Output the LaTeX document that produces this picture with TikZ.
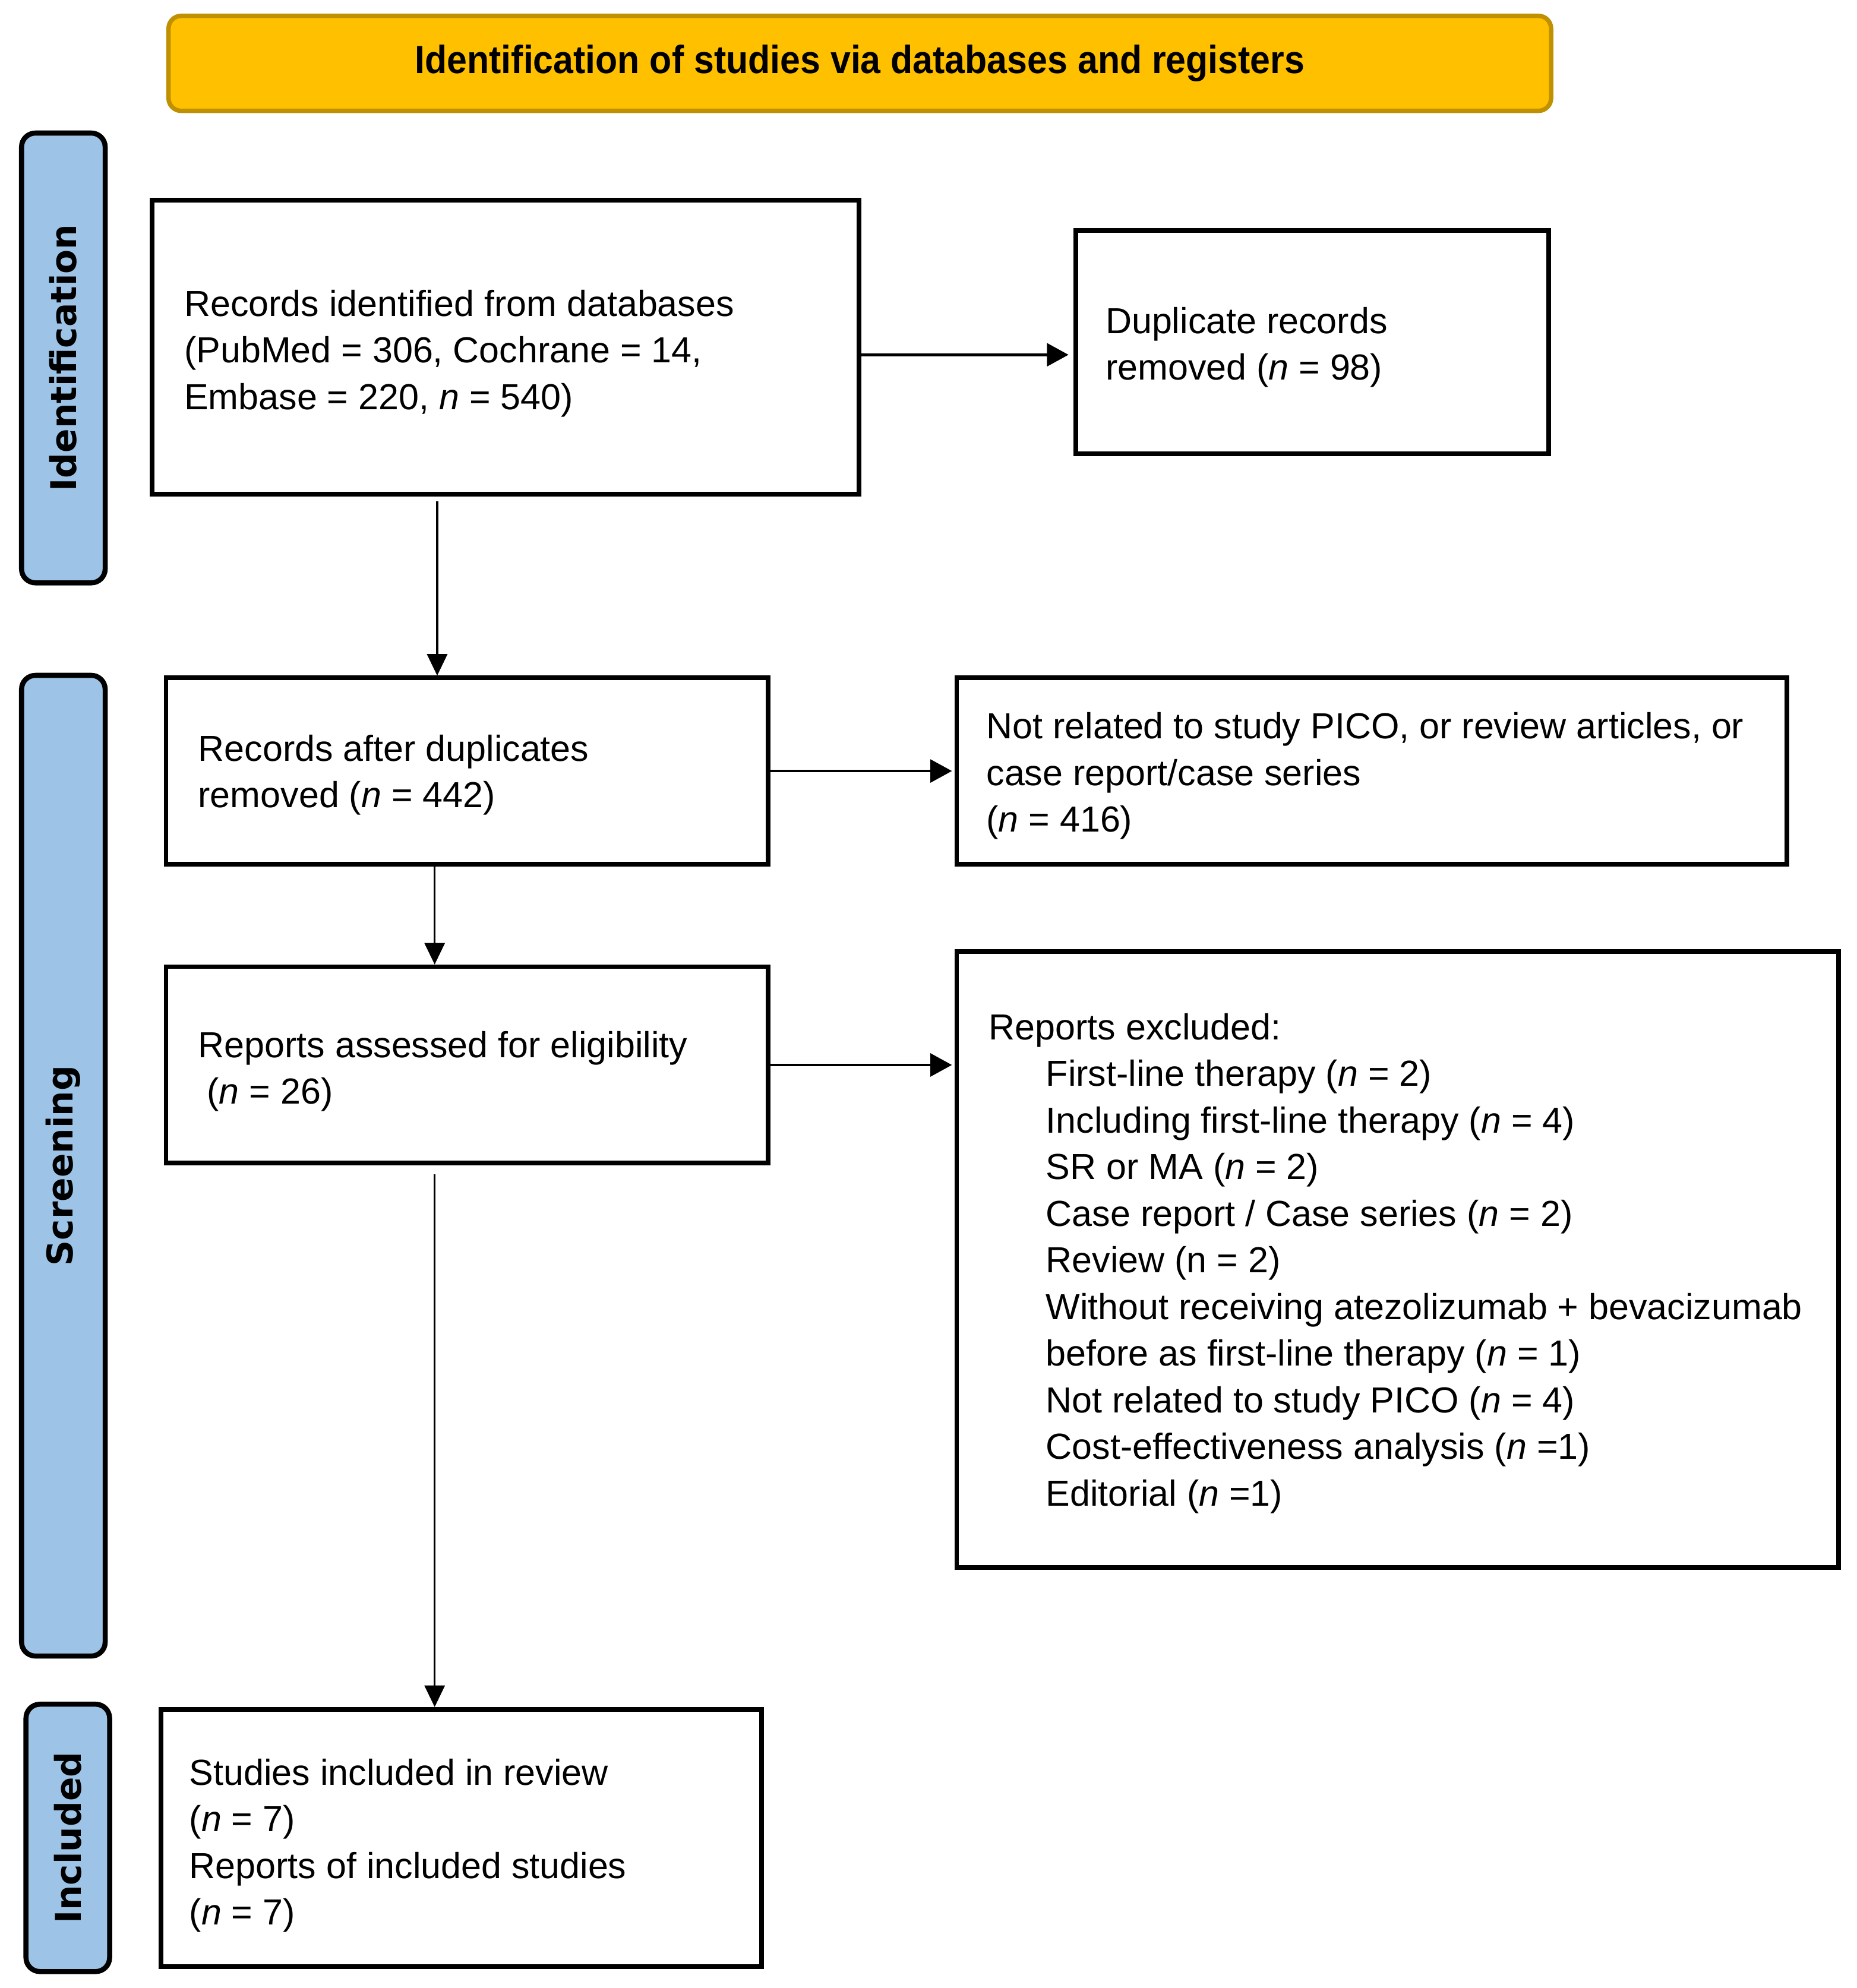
\documentclass[tikz,border=0pt]{standalone}
\usepackage{fontspec}
\setmainfont{Liberation Sans}
\newfontfamily\sidefont{DejaVu Sans}
\newfontfamily\headfont{Liberation Sans}[FakeStretch=0.92]
\usetikzlibrary{arrows.meta,calc}
\definecolor{headfill}{HTML}{FFC000}
\definecolor{headdraw}{HTML}{BF9000}
\definecolor{sidefill}{HTML}{9DC3E6}
\begin{document}
\begin{tikzpicture}[x=1pt,y=-1pt,
  box/.style={draw=black,line width=3.6pt,rectangle,inner sep=0pt,fill=white},
  txt/.style={anchor=west,align=left,inner sep=0pt,font=\fontsize{28.6}{36.8}\selectfont},
  side/.style={draw=black,line width=4pt,fill=sidefill,rounded corners=11pt,inner sep=0pt,
    rotate=90,minimum height=66pt,font=\sidefont\bfseries\fontsize{28}{30}\selectfont},
  arr/.style={-{Triangle[length=17pt,width=18pt]},line width=2.2pt},
  varr/.style={-{Triangle[length=17pt,width=16pt]},line width=1.5pt},
]
\useasboundingbox (0,0) rectangle (1465,1569);
\fill[white] (0,0) rectangle (1465,1569);

% header
\node[draw=headdraw,fill=headfill,line width=3.5pt,rounded corners=10pt,
  minimum width=1091pt,minimum height=75pt,inner sep=0pt,
  font=\headfont\bfseries\fontsize{31}{34}\selectfont] (head) at (678.5,50)
  {Identification of studies via databases and registers};

% side bars
\node[side,minimum width=355pt] (sid) at (50,282.5) {Identification};
\node[side,minimum width=774pt] (sscr) at (50,920) {Screening};
\node[side,minimum width=211pt] (sinc) at (53.5,1450.5) {Included};

% boxes
\node[box,minimum width=558pt,minimum height=232pt] (b1) at (399,274) {};
\node[box,minimum width=373pt,minimum height=176pt] (b2) at (1035.5,270) {};
\node[box,minimum width=475pt,minimum height=147pt] (b3) at (368.5,608.5) {};
\node[box,minimum width=655pt,minimum height=147pt] (b4) at (1082.5,608.5) {};
\node[box,minimum width=475pt,minimum height=155pt] (b5) at (368.5,840.5) {};
\node[box,minimum width=696pt,minimum height=486pt] (b6) at (1103,994) {};
\node[box,minimum width=474pt,minimum height=203pt] (b7) at (364,1450.5) {};

% texts
\node[txt] (t1) at ($(b1.west)+(27,5)$) {Records identified from databases\\(PubMed = 306, Cochrane = 14,\\Embase = 220, \textit{n} = 540)};
\node[txt] (t2) at ($(b2.west)+(25,4)$) {Duplicate records\\removed (\textit{n} = 98)};
\node[txt] (t3) at ($(b3.west)+(27,3)$) {Records after duplicates\\removed (\textit{n} = 442)};
\node[txt] (t4) at ($(b4.west)+(25,4)$) {Not related to study PICO, or review articles, or\\case report/case series\\(\textit{n} = 416)};
\node[txt] (t5) at ($(b5.west)+(27,5)$) {Reports assessed for eligibility\\\hspace*{7pt}(\textit{n} = 26)};
\node[txt] (t6) at ($(b6.west)+(27,3)$) {Reports excluded:\\
\hspace*{45pt}First-line therapy (\textit{n} = 2)\\
\hspace*{45pt}Including first-line therapy (\textit{n} = 4)\\
\hspace*{45pt}SR or MA (\textit{n} = 2)\\
\hspace*{45pt}Case report / Case series (\textit{n} = 2)\\
\hspace*{45pt}Review (n = 2)\\
\hspace*{45pt}Without receiving atezolizumab + bevacizumab\\
\hspace*{45pt}before as first-line therapy (\textit{n} = 1)\\
\hspace*{45pt}Not related to study PICO (\textit{n} = 4)\\
\hspace*{45pt}Cost-effectiveness analysis (\textit{n} =1)\\
\hspace*{45pt}Editorial (\textit{n} =1)};
\node[txt] (t7) at ($(b7.west)+(24,6)$) {Studies included in review\\(\textit{n} = 7)\\Reports of included studies\\(\textit{n} = 7)};

% connectors
\draw[arr,shorten >=4pt] (b1.east |- 0,280) -- (b2.west |- 0,280);
\draw[varr,shorten <=4pt] (b1.south -| 345,0) -- (b3.north -| 345,0);
\draw[arr,shorten >=2pt] (b3.east) -- (b4.west);
\draw[varr] (b3.south -| 343,0) -- (b5.north -| 343,0);
\draw[arr,shorten >=2pt] (b5.east) -- (b5.east -| b6.west);
\draw[varr,shorten <=7pt] (b5.south -| 343,0) -- (b7.north -| 343,0);
\end{tikzpicture}
\end{document}
